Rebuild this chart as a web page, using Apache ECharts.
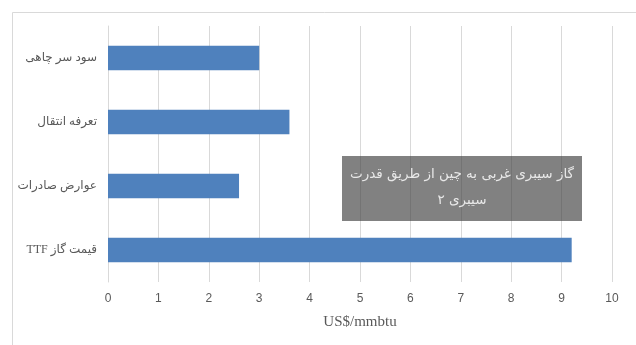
<!DOCTYPE html>
<html>
<head>
<meta charset="utf-8">
<script src="https://cdn.jsdelivr.net/npm/echarts@6/dist/echarts.min.js"></script>
<style>html,body{margin:0;padding:0;background:#fff;}#c{width:636px;height:345px;}</style>
</head>
<body>
<div id="c" dir="rtl"></div>
<script>
var categories = ['قیمت گاز TTF', 'عوارض صادرات', 'تعرفه انتقال', 'سود سر چاهی'];
var values = [9.2, 2.6, 3.6, 3.0];
var xTicks = [0, 1, 2, 3, 4, 5, 6, 7, 8, 9, 10];
var axisName = 'US$/mmbtu';
var boxText = 'گاز سیبری غربی به چین از طریق قدرت\nسیبری ۲';

var chart = echarts.init(document.getElementById('c'), null, {renderer: 'canvas'});
chart.setOption({
  animation: false,
  backgroundColor: '#fff',
  grid: {left: 108, right: 24, top: 26, height: 256, containLabel: false},
  xAxis: {
    type: 'value',
    min: xTicks[0], max: xTicks[xTicks.length - 1], interval: 1,
    axisLine: {show: false},
    axisTick: {show: false},
    splitLine: {show: true, lineStyle: {color: '#d9d9d9', width: 1}},
    axisLabel: {color: '#595959', fontSize: 12, fontFamily: 'Liberation Sans', margin: 11},
    name: axisName,
    nameLocation: 'middle',
    nameGap: 33,
    nameTextStyle: {color: '#595959', fontSize: 15, fontFamily: 'Liberation Serif'}
  },
  yAxis: {
    type: 'category',
    data: categories,
    axisLine: {show: true, lineStyle: {color: '#d9d9d9'}},
    axisTick: {show: false},
    axisLabel: {color: '#595959', fontSize: 12, fontFamily: "'Liberation Serif', 'DejaVu Sans'", margin: 11}
  },
  series: [{
    type: 'bar',
    data: values,
    barCategoryGap: '62%',
    itemStyle: {color: '#4f81bd'}
  }],
  graphic: [
    {type: 'rect', left: 10, top: 10, shape: {width: 660, height: 360},
     style: {fill: 'none', stroke: '#d9d9d9', lineWidth: 1}, silent: true, z: 0},
    {type: 'rect', left: 342, top: 156, shape: {width: 240, height: 65},
     style: {fill: 'rgba(64,64,64,0.66)'}, z: 100},
    {type: 'text', left: 342, top: 161, z: 101,
     style: {text: boxText, width: 240, align: 'center', fill: '#e8e8e8', fontSize: 13.5,
             lineHeight: 26, fontFamily: "'DejaVu Sans'", x: 120, textAlign: 'center'}}
  ]
});
</script>
</body>
</html>
